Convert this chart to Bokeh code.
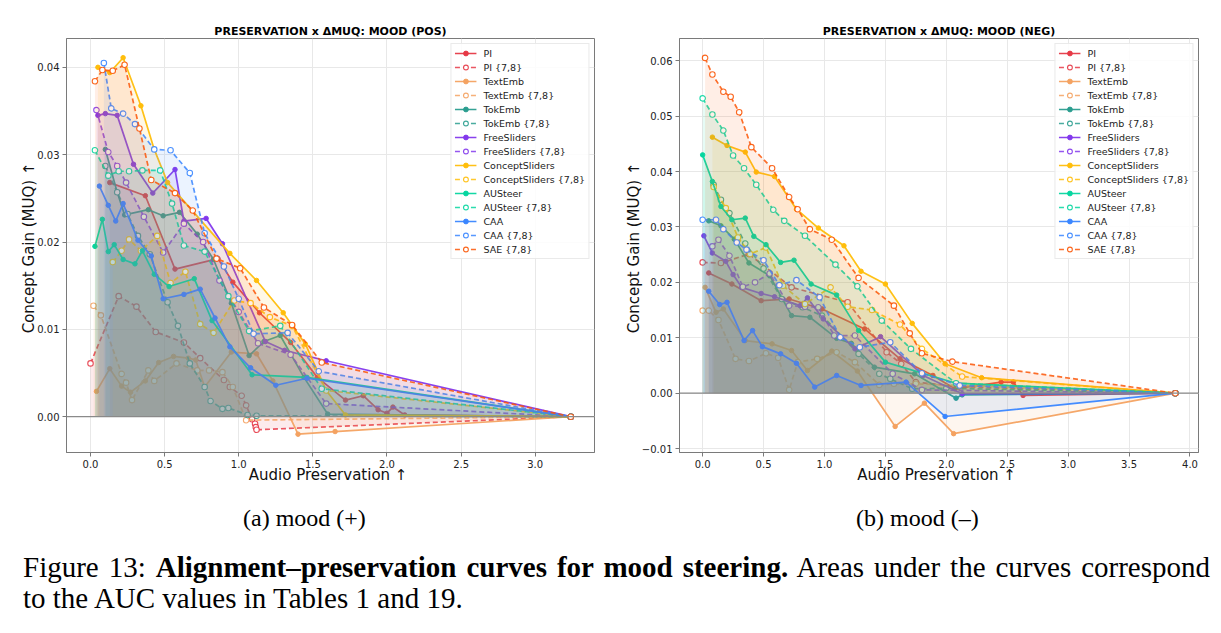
from bokeh.plotting import figure
from bokeh.models import (Span, FixedTicker, CustomJSTickFormatter, Range1d, Div,
                          Legend, LegendItem)
from bokeh.layouts import column, row
from bokeh.embed import file_html
from bokeh.resources import INLINE

# ---------------- data ----------------
METHODS = ["PI", "PI {7,8}", "TextEmb", "TextEmb {7,8}", "TokEmb", "TokEmb {7,8}",
           "FreeSliders", "FreeSliders {7,8}", "ConceptSliders", "ConceptSliders {7,8}",
           "AUSteer", "AUSteer {7,8}", "CAA", "CAA {7,8}", "SAE {7,8}"]
COLORS = ["#e63946", "#e63946", "#f4a261", "#f4a261", "#2a9d8f", "#2a9d8f",
          "#8338ec", "#8338ec", "#ffbe0b", "#ffbe0b", "#06d6a0", "#06d6a0",
          "#3a86ff", "#3a86ff", "#fb5607"]

POS_END_X = 3.24
NEG_END_X = 3.88

# ----- mood (+) -----
POS_PI_X = [0.13, 0.37, 0.57, 0.86, 0.96, 1.14, 1.35, 1.53, 1.72, 1.84, 1.94, 2.00, 2.04, 2.12]
POS_PI_Y = [0.0268, 0.0253, 0.0169, 0.0181, 0.0154, 0.0119, 0.0085, 0.0045, 0.0019, 0.0024, 0.0008, 0.0004, 0.0011, 0.0002]
POS_PI78_X = [0.00, 0.19, 0.31, 0.44, 0.63, 0.74, 0.90, 0.94, 1.02, 1.05, 1.09, 1.11, 1.115, 1.12]
POS_PI78_Y = [0.0061, 0.0138, 0.0126, 0.0097, 0.0085, 0.0067, 0.0042, 0.0034, 0.0024, 0.0013, -0.0003, -0.0008, -0.0012, -0.0015]
POS_TEXT_X = [0.04, 0.13, 0.21, 0.27, 0.37, 0.46, 0.56, 0.66, 0.71, 0.77, 0.95, 1.12, 1.23, 1.40, 1.65]
POS_TEXT_Y = [0.0029, 0.0055, 0.0035, 0.0028, 0.0041, 0.0062, 0.0069, 0.0067, 0.0065, 0.0034, 0.0074, 0.0072, 0.0041, -0.0020, -0.0017]
POS_TEXT78_X = [0.02, 0.07, 0.21, 0.24, 0.28, 0.39, 0.43, 0.58, 0.72, 0.80, 0.89, 0.96, 1.05]
POS_TEXT78_Y = [0.0127, 0.0116, 0.0049, 0.0039, 0.0019, 0.0053, 0.0041, 0.0061, 0.0053, 0.0053, 0.0051, 0.0034, -0.0004]
POS_TOK_X = [0.10, 0.18, 0.23, 0.39, 0.49, 0.60, 0.72, 0.83, 0.95, 1.07, 1.17, 1.28, 1.44, 1.60]
POS_TOK_Y = [0.0306, 0.0257, 0.0231, 0.0237, 0.0230, 0.0234, 0.0209, 0.0180, 0.0130, 0.0070, 0.0086, 0.0093, 0.0045, 0.0003]
POS_TOK78_X = [0.10, 0.18, 0.25, 0.32, 0.40, 0.52, 0.59, 0.67, 0.77, 0.81, 0.89, 0.93, 1.06, 1.12]
POS_TOK78_Y = [0.0287, 0.0257, 0.0232, 0.0207, 0.0186, 0.0131, 0.0104, 0.0061, 0.0034, 0.0018, 0.0009, 0.0010, 0.0002, 0.0001]
POS_FREE_X = [0.05, 0.10, 0.18, 0.29, 0.42, 0.57, 0.63, 0.78, 0.89, 1.18, 1.31, 1.59]
POS_FREE_Y = [0.0345, 0.0347, 0.0345, 0.0289, 0.0256, 0.0283, 0.0224, 0.0227, 0.0198, 0.0086, 0.0076, 0.0064]
POS_FREE78_X = [0.04, 0.12, 0.18, 0.24, 0.36, 0.49, 0.63, 0.76, 0.87, 1.00, 1.13, 1.35, 1.59]
POS_FREE78_Y = [0.0351, 0.0303, 0.0287, 0.0268, 0.0229, 0.0188, 0.0221, 0.0200, 0.0156, 0.0120, 0.0084, 0.0071, 0.0015]
POS_CS_X = [0.05, 0.13, 0.22, 0.34, 0.43, 0.52, 0.94, 1.12, 1.30, 1.45, 1.59, 1.72]
POS_CS_Y = [0.0400, 0.0394, 0.0411, 0.0356, 0.0306, 0.0268, 0.0187, 0.0156, 0.0119, 0.0083, 0.0030, 0.0002]
POS_CS78_X = [0.15, 0.21, 0.26, 0.34, 0.45, 0.54, 0.64, 0.74, 0.83, 0.97, 1.08, 1.21, 1.36, 1.59]
POS_CS78_Y = [0.0177, 0.0190, 0.0203, 0.0190, 0.0207, 0.0153, 0.0166, 0.0106, 0.0096, 0.0133, 0.0130, 0.0114, 0.0104, 0.0030]
POS_AU_X = [0.03, 0.08, 0.12, 0.16, 0.22, 0.30, 0.35, 0.43, 0.53, 0.70, 0.82, 1.09, 1.46]
POS_AU_Y = [0.0195, 0.0226, 0.0189, 0.0197, 0.0180, 0.0175, 0.0190, 0.0163, 0.0149, 0.0158, 0.0110, 0.0048, 0.0045]
POS_AU78_X = [0.03, 0.12, 0.19, 0.26, 0.35, 0.47, 0.55, 0.63, 0.77, 0.93, 1.07, 1.28, 1.56]
POS_AU78_Y = [0.0305, 0.0276, 0.0281, 0.0281, 0.0282, 0.0282, 0.0244, 0.0196, 0.0189, 0.0138, 0.0098, 0.0104, 0.0032]
POS_CAA_X = [0.06, 0.12, 0.17, 0.22, 0.32, 0.41, 0.49, 0.63, 0.74, 0.84, 0.94, 1.08, 1.25, 1.46]
POS_CAA_Y = [0.0264, 0.0242, 0.0224, 0.0244, 0.0202, 0.0184, 0.0135, 0.0140, 0.0146, 0.0113, 0.0080, 0.0056, 0.0036, 0.0044]
POS_CAA78_X = [0.09, 0.14, 0.22, 0.30, 0.43, 0.54, 0.67, 0.77, 0.90, 1.00, 1.10, 1.33, 1.54]
POS_CAA78_Y = [0.0405, 0.0353, 0.0347, 0.0335, 0.0306, 0.0305, 0.0279, 0.0210, 0.0172, 0.0135, 0.0095, 0.0096, 0.0052]
POS_SAE78_X = [0.03, 0.08, 0.15, 0.23, 0.33, 0.41, 0.57, 0.69, 0.85, 1.01, 1.17, 1.36, 1.56]
POS_SAE78_Y = [0.0384, 0.0397, 0.0396, 0.0403, 0.0330, 0.0271, 0.0256, 0.0236, 0.0181, 0.0170, 0.0125, 0.0105, 0.0062]

# ----- mood (-) -----
NEG_PI_X = [0.05, 0.24, 0.48, 0.71, 0.98, 1.33, 1.62, 1.89, 2.07, 2.45, 2.55, 2.63]
NEG_PI_Y = [0.0217, 0.0197, 0.0167, 0.0170, 0.0152, 0.0116, 0.0062, 0.0032, 0.0008, 0.0020, 0.0020, -0.0004]
NEG_PI78_X = [0.00, 0.15, 0.38, 0.73, 1.19, 1.51, 1.63, 1.75, 2.10]
NEG_PI78_Y = [0.0236, 0.0235, 0.0251, 0.0191, 0.0164, 0.0074, 0.0053, 0.0020, 0.0012]
NEG_TEXT_X = [0.02, 0.11, 0.17, 0.35, 0.57, 0.73, 0.86, 1.06, 1.27, 1.58, 1.82, 2.06]
NEG_TEXT_Y = [0.0191, 0.0146, 0.0152, 0.0095, 0.0089, 0.0077, 0.0041, 0.0076, 0.0040, -0.0060, -0.0018, -0.0073]
NEG_TEXT78_X = [0.00, 0.05, 0.13, 0.27, 0.38, 0.52, 0.62, 0.71, 0.78, 0.94, 1.10, 1.25, 1.45, 1.57, 1.75]
NEG_TEXT78_Y = [0.0149, 0.0149, 0.0132, 0.0062, 0.0058, 0.0072, 0.0064, 0.0006, 0.0056, 0.0062, 0.0074, 0.0056, 0.0015, 0.0017, 0.0017]
NEG_TOK_X = [0.05, 0.15, 0.26, 0.38, 0.55, 0.73, 0.88, 1.10, 1.22, 1.41, 1.74, 2.08, 2.13]
NEG_TOK_Y = [0.0311, 0.0302, 0.0278, 0.0235, 0.0212, 0.0140, 0.0137, 0.0099, 0.0090, 0.0047, 0.0035, -0.0009, -0.0003]
NEG_TOK78_X = [0.09, 0.15, 0.22, 0.35, 0.50, 0.65, 0.82, 0.98, 1.28, 1.45, 1.54, 1.72, 2.00]
NEG_TOK78_Y = [0.0376, 0.0349, 0.0325, 0.0270, 0.0225, 0.0170, 0.0155, 0.0140, 0.0071, 0.0035, 0.0026, 0.0008, 0.0009]
NEG_FREE_X = [0.01, 0.08, 0.19, 0.25, 0.32, 0.48, 0.59, 0.80, 0.86, 0.99, 1.25, 1.46, 1.81, 2.13]
NEG_FREE_Y = [0.0284, 0.0253, 0.0238, 0.0214, 0.0191, 0.0180, 0.0174, 0.0158, 0.0172, 0.0134, 0.0080, 0.0102, 0.0032, -0.0001]
NEG_FREE78_X = [0.08, 0.13, 0.22, 0.33, 0.43, 0.55, 0.71, 0.84, 0.95, 1.08, 1.25, 1.56, 1.80]
NEG_FREE78_Y = [0.0265, 0.0277, 0.0248, 0.0192, 0.0200, 0.0216, 0.0158, 0.0156, 0.0155, 0.0104, 0.0104, 0.0035, 0.0006]
NEG_CS_X = [0.08, 0.20, 0.35, 0.44, 0.59, 0.77, 0.95, 1.16, 1.30, 1.50, 1.72, 1.99, 2.29]
NEG_CS_Y = [0.0462, 0.0447, 0.0435, 0.0399, 0.0391, 0.0332, 0.0298, 0.0266, 0.0220, 0.0197, 0.0126, 0.0053, 0.0028]
NEG_CS78_X = [0.09, 0.19, 0.29, 0.39, 0.52, 0.66, 0.84, 1.05, 1.19, 1.39, 1.62, 1.80, 2.13]
NEG_CS78_Y = [0.0372, 0.0334, 0.0281, 0.0251, 0.0263, 0.0194, 0.0161, 0.0191, 0.0156, 0.0150, 0.0124, 0.0080, 0.0030]
NEG_AU_X = [0.00, 0.08, 0.15, 0.24, 0.35, 0.42, 0.52, 0.64, 0.75, 0.89, 1.10, 1.28, 1.50, 2.08]
NEG_AU_Y = [0.0430, 0.0382, 0.0337, 0.0313, 0.0316, 0.0283, 0.0268, 0.0236, 0.0240, 0.0197, 0.0177, 0.0113, 0.0056, 0.0018]
NEG_AU78_X = [0.00, 0.08, 0.17, 0.25, 0.34, 0.44, 0.58, 0.67, 0.84, 1.09, 1.27, 1.47, 1.71, 2.08]
NEG_AU78_Y = [0.0532, 0.0503, 0.0474, 0.0429, 0.0406, 0.0376, 0.0331, 0.0311, 0.0284, 0.0232, 0.0193, 0.0131, 0.0080, 0.0018]
NEG_CAA_X = [0.05, 0.14, 0.20, 0.34, 0.41, 0.49, 0.64, 0.77, 0.92, 1.10, 1.30, 1.67, 1.99]
NEG_CAA_Y = [0.0184, 0.0160, 0.0164, 0.0095, 0.0113, 0.0084, 0.0071, 0.0054, 0.0011, 0.0032, 0.0014, 0.0020, -0.0042]
NEG_CAA78_X = [0.00, 0.11, 0.17, 0.28, 0.36, 0.50, 0.63, 0.77, 0.96, 1.13, 1.29, 1.54, 1.80, 2.11]
NEG_CAA78_Y = [0.0313, 0.0313, 0.0296, 0.0272, 0.0259, 0.0240, 0.0195, 0.0204, 0.0173, 0.0101, 0.0083, 0.0092, 0.0036, 0.0014]
NEG_SAE78_X = [0.02, 0.08, 0.17, 0.23, 0.30, 0.40, 0.57, 0.71, 0.78, 0.88, 1.06, 1.28, 1.57, 1.70, 1.80, 2.05]
NEG_SAE78_Y = [0.0605, 0.0575, 0.0544, 0.0535, 0.0507, 0.0444, 0.0406, 0.0354, 0.0332, 0.0296, 0.0277, 0.0208, 0.0158, 0.0108, 0.0072, 0.0057]

POS_SERIES = [(POS_PI_X, POS_PI_Y), (POS_PI78_X, POS_PI78_Y), (POS_TEXT_X, POS_TEXT_Y),
              (POS_TEXT78_X, POS_TEXT78_Y), (POS_TOK_X, POS_TOK_Y), (POS_TOK78_X, POS_TOK78_Y),
              (POS_FREE_X, POS_FREE_Y), (POS_FREE78_X, POS_FREE78_Y), (POS_CS_X, POS_CS_Y),
              (POS_CS78_X, POS_CS78_Y), (POS_AU_X, POS_AU_Y), (POS_AU78_X, POS_AU78_Y),
              (POS_CAA_X, POS_CAA_Y), (POS_CAA78_X, POS_CAA78_Y), (POS_SAE78_X, POS_SAE78_Y)]
NEG_SERIES = [(NEG_PI_X, NEG_PI_Y), (NEG_PI78_X, NEG_PI78_Y), (NEG_TEXT_X, NEG_TEXT_Y),
              (NEG_TEXT78_X, NEG_TEXT78_Y), (NEG_TOK_X, NEG_TOK_Y), (NEG_TOK78_X, NEG_TOK78_Y),
              (NEG_FREE_X, NEG_FREE_Y), (NEG_FREE78_X, NEG_FREE78_Y), (NEG_CS_X, NEG_CS_Y),
              (NEG_CS78_X, NEG_CS78_Y), (NEG_AU_X, NEG_AU_Y), (NEG_AU78_X, NEG_AU78_Y),
              (NEG_CAA_X, NEG_CAA_Y), (NEG_CAA78_X, NEG_CAA78_Y), (NEG_SAE78_X, NEG_SAE78_Y)]

POS_XTICKS = [0.0, 0.5, 1.0, 1.5, 2.0, 2.5, 3.0]
POS_YTICKS = [0.00, 0.01, 0.02, 0.03, 0.04]
NEG_XTICKS = [0.0, 0.5, 1.0, 1.5, 2.0, 2.5, 3.0, 3.5, 4.0]
NEG_YTICKS = [-0.01, 0.00, 0.01, 0.02, 0.03, 0.04, 0.05, 0.06]

FONT = "DejaVu Sans"
AX = "#7a7a7a"


def make_panel(title, series, end_x, xr, yr, xticks, yticks, fw, bl, br):
    p = figure(frame_width=fw, frame_height=414, min_border_left=bl, min_border_right=br,
               min_border_top=38, min_border_bottom=38,
               x_range=Range1d(*xr), y_range=Range1d(*yr),
               output_backend="svg", toolbar_location=None, title=title)
    p.title.text_font = FONT
    p.title.text_font_size = "11px"
    p.title.text_font_style = "bold"
    p.title.text_color = "#000000"
    p.title.align = "center"
    p.title.standoff = 2
    p.outline_line_color = AX
    p.outline_line_width = 1
    p.background_fill_color = "white"
    p.border_fill_color = "white"
    for g in (p.xgrid, p.ygrid):
        g.grid_line_color = "#e8e8e8"
        g.grid_line_width = 1
    for ax in (p.xaxis, p.yaxis):
        ax.axis_line_color = AX
        ax.major_tick_line_color = AX
        ax.major_tick_out = 4
        ax.major_tick_in = 0
        ax.minor_tick_line_color = None
        ax.major_label_text_font = FONT
        ax.major_label_text_font_size = "10px"
        ax.major_label_text_color = "#222222"
        ax.axis_label_text_font = FONT
        ax.axis_label_text_font_size = "15px"
        ax.axis_label_text_font_style = "normal"
        ax.axis_label_text_color = "#111111"
    p.xaxis.ticker = FixedTicker(ticks=xticks)
    p.yaxis.ticker = FixedTicker(ticks=yticks)
    p.xaxis.formatter = CustomJSTickFormatter(code="return tick.toFixed(1).replace('-', '\u2212');")
    p.yaxis.formatter = CustomJSTickFormatter(code="return tick.toFixed(2).replace('-', '\u2212');")
    p.xaxis.major_label_standoff = 3
    p.yaxis.major_label_standoff = 3
    p.xaxis.axis_label = "Audio Preservation  \u2191"
    p.yaxis.axis_label = "Concept Gain (MUQ)  \u2191"
    p.xaxis.axis_label_standoff = -5
    p.yaxis.axis_label_standoff = -4

    items = []
    for name, color, (xs, ys) in zip(METHODS, COLORS, series):
        dashed = "{7,8}" in name
        X = list(xs) + [end_x]
        Y = list(ys) + [0.0]
        p.varea(x=X, y1=[0.0] * len(X), y2=Y, fill_color=color, fill_alpha=0.1)
        r1 = p.line(X, Y, line_color=color, line_width=1.7,
                    line_dash="5 3" if dashed else "solid",
                    line_alpha=0.85 if dashed else 0.95)
        if dashed:
            r2 = p.scatter(X, Y, marker="circle", size=5.5, fill_color="white",
                           line_color=color, line_width=1.1, line_alpha=0.9)
        else:
            r2 = p.scatter(X, Y, marker="circle", size=4.5, fill_color=color,
                           line_color=color, line_width=1)
        items.append(LegendItem(label=name, renderers=[r1, r2]))

    p.add_layout(Span(location=0, dimension="width", line_color="#8a8a8a",
                      line_width=1.2, level="glyph"))
    leg = Legend(items=items, location="top_right")
    leg.label_text_font = FONT
    leg.label_text_font_size = "9.5px"
    leg.label_text_color = "#222222"
    leg.label_height = 12
    leg.glyph_height = 12
    leg.glyph_width = 22
    leg.label_standoff = 7
    leg.spacing = 2
    leg.padding = 3
    leg.margin = 5
    leg.border_line_color = "#d6d6d6"
    leg.background_fill_alpha = 0.85
    p.add_layout(leg)
    return p


p1 = make_panel("PRESERVATION x \u0394MUQ: MOOD (POS)", POS_SERIES, POS_END_X,
                (-0.162, 3.40), (-0.0041, 0.0433), POS_XTICKS, POS_YTICKS, 528, 66, 16)
p2 = make_panel("PRESERVATION x \u0394MUQ: MOOD (NEG)", NEG_SERIES, NEG_END_X,
                (-0.19, 4.07), (-0.0107, 0.064), NEG_XTICKS, NEG_YTICKS, 519, 69, 23)

caption = Div(width=1221, height=143, text="""
<div style="position:relative;width:1221px;height:143px;font-family:'Liberation Serif','Times New Roman',serif;color:#000;">
  <div style="position:absolute;left:238px;top:9px;font-size:24px;line-height:28px;white-space:nowrap;">(a) mood (+)</div>
  <div style="position:absolute;left:851px;top:9px;font-size:24px;line-height:28px;white-space:nowrap;">(b) mood (&ndash;)</div>
  <div style="position:absolute;left:18px;top:57px;width:1187px;font-size:29px;line-height:30px;white-space:nowrap;text-align:justify;text-align-last:justify;">Figure 13: <b>Alignment&ndash;preservation curves for mood steering.</b> Areas under the curves correspond</div>
  <div style="position:absolute;left:18px;top:88px;font-size:29px;line-height:30px;white-space:nowrap;">to the AUC values in Tables 1 and 19.</div>
</div>
""")

layout = column(row(p1, p2), caption)
open("out.html", "w").write(file_html(layout, INLINE))
